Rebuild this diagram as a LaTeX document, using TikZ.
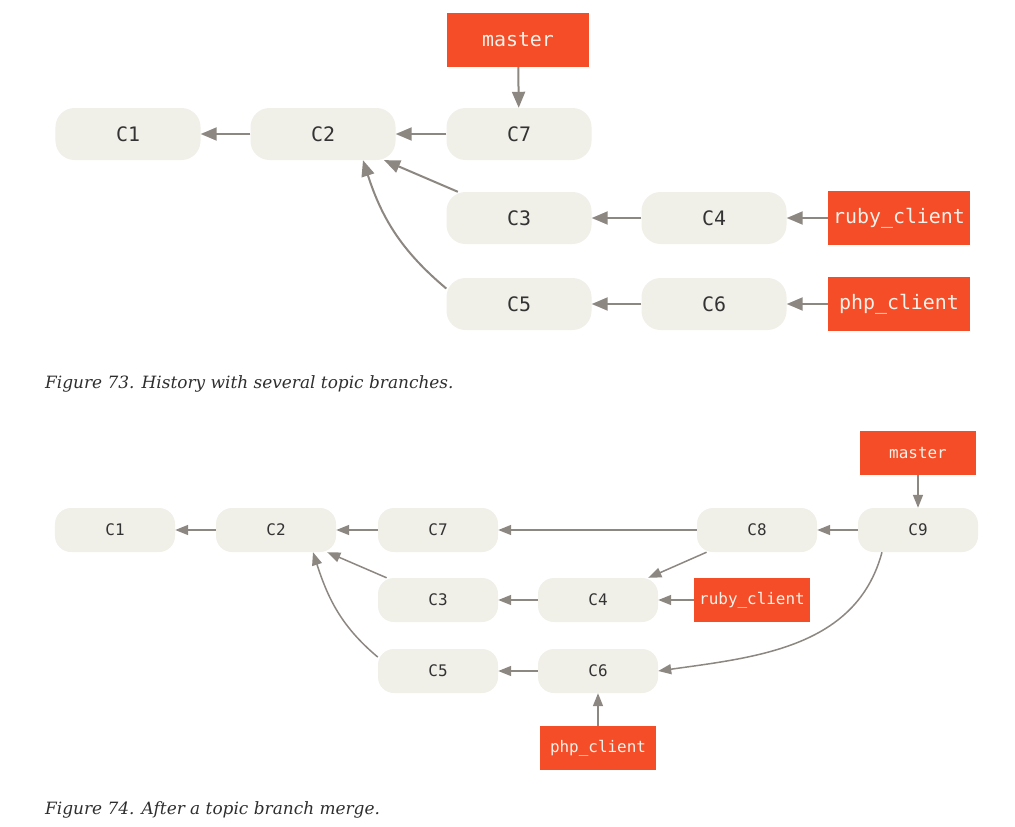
\documentclass[tikz,border=0pt]{standalone}
\usepackage{fontspec}
\setmainfont{DejaVu Serif}
\setmonofont{DejaVu Sans Mono}
\usetikzlibrary{arrows.meta}
\definecolor{commitbg}{HTML}{F0EFE8}
\definecolor{commitfg}{HTML}{333333}
\definecolor{branchbg}{HTML}{F44D27}
\definecolor{branchfg}{HTML}{F3F1EA}
\definecolor{linkgray}{HTML}{8C8781}
\definecolor{captionfg}{HTML}{2E2E2E}
\tikzset{
  bigcommit/.style={fill=commitbg, text=commitfg, rounded corners=19bp, inner sep=0pt,
    minimum width=145bp, minimum height=52bp, font=\ttfamily\fontsize{20}{24}\selectfont},
  smallcommit/.style={fill=commitbg, text=commitfg, rounded corners=16bp, inner sep=0pt,
    minimum width=120bp, minimum height=44bp, font=\ttfamily\fontsize{16}{19}\selectfont},
  bigbranch/.style={fill=branchbg, text=branchfg, inner sep=0pt,
    minimum width=142bp, minimum height=54bp, font=\ttfamily\fontsize{20}{24}\selectfont},
  smallbranch/.style={fill=branchbg, text=branchfg, inner sep=0pt,
    minimum width=116bp, minimum height=44bp, font=\ttfamily\fontsize{16}{19}\selectfont},
  bigarrow/.style={draw=linkgray, line width=2bp, -{Triangle[length=16bp,width=13bp]}},
  smallarrow/.style={draw=linkgray, line width=1.5bp, -{Triangle[length=13bp,width=10bp]}},
  caption/.style={anchor=base west, inner sep=0pt, text=captionfg,
    font=\itshape\fontsize{17}{20}\selectfont}
}
\begin{document}
\begin{tikzpicture}[x=1bp,y=-1bp]
\useasboundingbox (0,0) rectangle (1015,827);
\node[bigcommit] (topc1) at (128,134) {C1};
\node[bigcommit] (topc2) at (323,134) {C2};
\node[bigcommit] (topc7) at (519,134) {C7};
\node[bigcommit] (topc3) at (519,218) {C3};
\node[bigcommit] (topc4) at (714,218) {C4};
\node[bigcommit] (topc5) at (519,304) {C5};
\node[bigcommit] (topc6) at (714,304) {C6};
\node[bigbranch] (topmaster) at (518,40) {master};
\node[bigbranch] (topruby) at (899,218) {ruby\_client};
\node[bigbranch] (topphp) at (899,304) {php\_client};
\draw[bigarrow] (topc2) -- (topc1);
\draw[bigarrow] (topc7) -- (topc2);
\draw[bigarrow] (topmaster) -- (topc7);
\draw[bigarrow] (topc3) -- (topc2);
\draw[bigarrow] (topc4) -- (topc3);
\draw[bigarrow] (topc6) -- (topc5);
\draw[bigarrow] (topruby) -- (topc4);
\draw[bigarrow] (topphp) -- (topc6);
\draw[bigarrow] (topc5.168) to[out=140,in=-72] ([xshift=40bp]topc2.south);
\node[caption] (topcaption) at (45,388) {Figure 73. History with several topic branches.};
\node[smallcommit] (botc1) at (115,530) {C1};
\node[smallcommit] (botc2) at (276,530) {C2};
\node[smallcommit] (botc7) at (438,530) {C7};
\node[smallcommit] (botc8) at (757,530) {C8};
\node[smallcommit] (botc9) at (918,530) {C9};
\node[smallcommit] (botc3) at (438,600) {C3};
\node[smallcommit] (botc4) at (598,600) {C4};
\node[smallcommit] (botc5) at (438,671) {C5};
\node[smallcommit] (botc6) at (598,671) {C6};
\node[smallbranch] (botmaster) at (918,453) {master};
\node[smallbranch] (botruby) at (752,600) {ruby\_client};
\node[smallbranch] (botphp) at (598,748) {php\_client};
\draw[smallarrow] (botc2) -- (botc1);
\draw[smallarrow] (botc7) -- (botc2);
\draw[smallarrow] (botc8) -- (botc7);
\draw[smallarrow] (botc9) -- (botc8);
\draw[smallarrow] (botmaster) -- (botc9);
\draw[smallarrow] (botc3) -- (botc2);
\draw[smallarrow] (botc4) -- (botc3);
\draw[smallarrow] (botc8) -- (botc4);
\draw[smallarrow] (botruby) -- (botc4);
\draw[smallarrow] (botc6) -- (botc5);
\draw[smallarrow] (botphp) -- (botc6);
\draw[smallarrow] (botc5.167) to[out=140,in=-72] ([xshift=37bp]botc2.south);
\draw[smallarrow] ([xshift=-36bp]botc9.south) to[out=-105,in=8] (botc6.east);
\node[caption] (botcaption) at (45,814) {Figure 74. After a topic branch merge.};
\end{tikzpicture}
\end{document}
